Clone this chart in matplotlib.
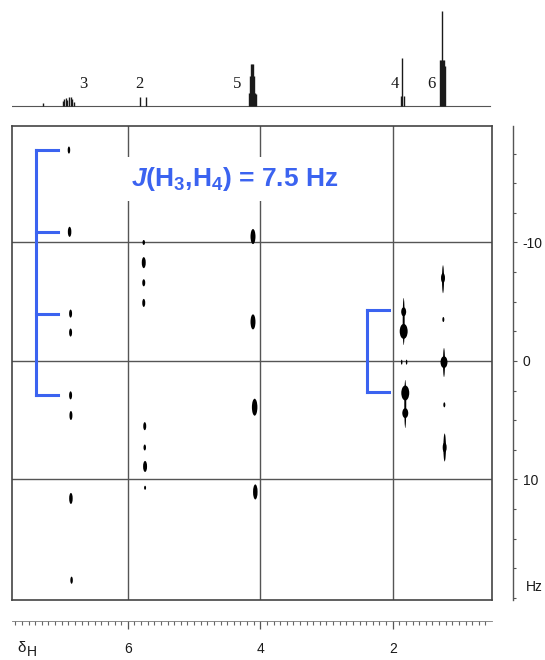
import matplotlib
matplotlib.use('Agg')
import matplotlib.pyplot as plt
from matplotlib.patches import Ellipse
from matplotlib.ticker import FixedLocator

plt.rcParams['font.family'] = 'Liberation Sans'
plt.rcParams['mathtext.fontset'] = 'custom'
plt.rcParams['mathtext.rm'] = 'Liberation Sans:bold'
plt.rcParams['mathtext.it'] = 'Liberation Sans:italic:bold'
plt.rcParams['mathtext.bf'] = 'Liberation Sans:bold'

# --- 1D 1H spectrum (top trace): line positions (ppm) and heights
peak_ppm = [7.28,
            6.98, 6.96, 6.94, 6.915, 6.89, 6.865, 6.84, 6.82,
            5.82, 5.73,
            4.17, 4.155, 4.14, 4.125, 4.11, 4.095, 4.075, 4.06,
            1.875, 1.855, 1.835,
            1.29, 1.275, 1.26, 1.245, 1.23, 1.205]
peak_height = [3,
               5, 7, 8, 6, 9, 9, 7, 4,
               9, 9,
               13, 30, 42, 42, 42, 30, 13, 12,
               10, 48, 10,
               46, 46, 95, 46, 46, 40]
label_text = ['3', '2', '5', '4', '6']
label_ppm = [6.67, 5.82, 4.35, 1.97, 1.42]

# --- 2D J-resolved cross peaks: delta (ppm), J (Hz), spot width (ppm), spot height (Hz)
spot_ppm = [6.89, 6.88, 6.865, 6.865, 6.865, 6.86, 6.86, 6.85,            # H3
            5.76, 5.76, 5.76, 5.76, 5.745, 5.745, 5.74, 5.74,             # H2
            4.11, 4.11, 4.085, 4.075,                                     # H5
            1.834, 1.834, 1.834, 1.864, 1.79, 1.81, 1.81, 1.81,           # H4
            1.24, 1.24, 1.235, 1.225, 1.225, 1.22, 1.215, 1.215]          # H6
spot_hz = [-17.8, -10.9, -4.0, -2.4, 2.9, 4.6, 11.6, 18.5,
           -10.0, -8.3, -6.6, -4.9, 5.5, 7.3, 8.9, 10.7,
           -10.5, -3.3, 3.9, 11.05,
           -3.33, -4.15, -2.5, 0.1, 0.1, 3.63, 2.7, 4.4,
           -6.9, -7.0, -3.5, 0.13, 0.1, 3.7, 7.3, 7.3]
spot_w = [0.038, 0.053, 0.045, 0.045, 0.045, 0.045, 0.053, 0.038,
          0.038, 0.06, 0.045, 0.045, 0.045, 0.038, 0.06, 0.03,
          0.075, 0.075, 0.083, 0.068,
          0.03, 0.075, 0.12, 0.023, 0.023, 0.03, 0.12, 0.09,
          0.03, 0.06, 0.03, 0.03, 0.105, 0.03, 0.038, 0.06]
spot_h = [0.6, 0.85, 0.68, 0.68, 0.68, 0.76, 0.93, 0.6,
          0.42, 0.93, 0.6, 0.68, 0.68, 0.5, 0.93, 0.34,
          1.27, 1.27, 1.43, 1.27,
          3.97, 0.76, 1.27, 0.42, 0.42, 4.05, 1.27, 0.84,
          2.36, 0.84, 0.42, 2.45, 1.0, 0.42, 2.36, 0.84]

# coupling brackets (blue)
bracket_h3_hz = [-17.8, -10.9, -4.0, 2.9]
bracket_h4_hz = [-4.3, 2.6]

W, H = 545, 660
def box(x0, y0, x1, y1):
    # pixel box (top-left origin) -> figure fraction rect
    return [x0 / W, 1 - y1 / H, (x1 - x0) / W, (y1 - y0) / H]

xlim = (7.75, 0.5)
ylim = (20.17, -19.83)
blue = '#3b63f0'
ink = '#1a1a1a'

fig = plt.figure(figsize=(W / 100, H / 100), dpi=100)

# top spectrum
ax_t = fig.add_axes(box(12, 0, 492, 110))
ax_t.set_xlim(xlim)
ax_t.set_ylim(-4, 106)
ax_t.axis('off')
ax_t.plot([7.75, 0.53], [0, 0], color='#555555', lw=0.8)
ax_t.vlines(peak_ppm, 0, peak_height, color=ink, lw=1.0)
for t, p in zip(label_text, label_ppm):
    ax_t.text(p, 22, t, family='Liberation Serif', fontsize=12, ha='center', va='center', color=ink)

# 2D map
ax = fig.add_axes(box(12, 126, 492, 600))
ax.set_xlim(xlim)
ax.set_ylim(ylim)
ax.set_xticks([])
ax.set_yticks([])
for s in ax.spines.values():
    s.set_color('#444444')
    s.set_linewidth(1.2)
for v in [6, 4, 2]:
    ax.axvline(v, color='#555555', lw=1.0, zorder=1)
for h in [-10, 0, 10]:
    ax.axhline(h, color='#555555', lw=1.0, zorder=1)
for p, j, w, h in zip(spot_ppm, spot_hz, spot_w, spot_h):
    ax.add_patch(Ellipse((p, j), w, h, color='black', lw=0, zorder=3))

# blue brackets
ax.plot([7.385, 7.385], [bracket_h3_hz[0], bracket_h3_hz[-1]], color=blue, lw=2.2, solid_capstyle='projecting', zorder=4)
for j in bracket_h3_hz:
    ax.plot([7.385, 7.06], [j, j], color=blue, lw=2.2, solid_capstyle='projecting', zorder=4)
ax.plot([2.39, 2.39], bracket_h4_hz, color=blue, lw=2.2, solid_capstyle='projecting', zorder=4)
for j in bracket_h4_hz:
    ax.plot([2.39, 2.05], [j, j], color=blue, lw=2.2, solid_capstyle='projecting', zorder=4)

fig.text(234.5 / W, 1 - 179 / H, r'$J$(H$_3$,H$_4$) = 7.5 Hz', color=blue, fontsize=19,
         fontweight='bold', ha='center', va='center',
         bbox=dict(facecolor='white', edgecolor='none', pad=6))

# right Hz scale
ax_r = fig.add_axes(box(513, 126, 513.01, 600))
ax_r.set_ylim(ylim)
ax_r.set_xticks([])
for k in ['left', 'top', 'bottom']:
    ax_r.spines[k].set_visible(False)
ax_r.spines['right'].set_color('#555555')
ax_r.spines['right'].set_linewidth(1.0)
ax_r.yaxis.tick_right()
ax_r.set_yticks([-10, 0, 10])
ax_r.set_yticklabels(['-10', '0', '10'])
ax_r.yaxis.set_minor_locator(FixedLocator([-17.5, -15, -12.5, -7.5, -5, -2.5, 2.5, 5, 7.5, 12.5, 15, 17.5, 20]))
ax_r.tick_params(axis='y', which='major', direction='out', length=3, width=0.8, color='#555555',
                 pad=4, labelsize=10, labelcolor=ink)
ax_r.tick_params(axis='y', which='minor', direction='out', length=2.5, width=0.8, color='#555555')
fig.text(526 / W, 1 - 587 / H, 'Hz', fontsize=10, color=ink, ha='left', va='center')

# bottom ppm scale
ax_b = fig.add_axes(box(12, 621, 492, 621.01))
ax_b.set_xlim(xlim)
ax_b.set_yticks([])
for k in ['left', 'top', 'right']:
    ax_b.spines[k].set_visible(False)
ax_b.spines['bottom'].set_color('#777777')
ax_b.spines['bottom'].set_linewidth(0.6)
ax_b.set_xticks([6, 4, 2])
ax_b.set_xticklabels(['6', '4', '2'])
ax_b.xaxis.set_minor_locator(FixedLocator([round(0.6 + 0.1 * i, 1) for i in range(72)]))
ax_b.tick_params(axis='x', which='major', direction='out', length=6, width=0.9, color='#555555',
                 pad=9, labelsize=10, labelcolor=ink)
ax_b.tick_params(axis='x', which='minor', direction='out', length=2.8, width=0.8, color='#666666')
fig.text(17 / W, 1 - 648 / H, 'δ', fontsize=11, color=ink, ha='left', va='center')
fig.text(26.5 / W, 1 - 652 / H, 'H', fontsize=10, color=ink, ha='left', va='center')

plt.savefig('out.png', dpi=100)
plt.close()
